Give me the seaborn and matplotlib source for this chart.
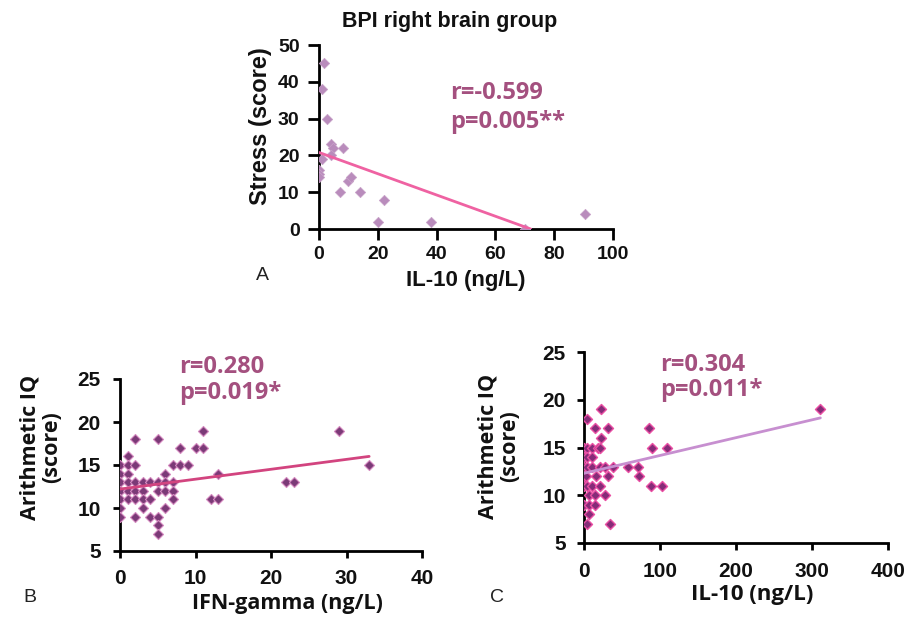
import matplotlib
matplotlib.use("Agg")
import matplotlib.pyplot as plt
import seaborn as sns
import pandas as pd

# ---------------- data ----------------
# Panel A: Stress vs IL-10
a_il10 = [1.8, 0.9, 2.8, 4, 4.9, 8, 4, 1, 0, 0, 0, 7, 10, 11, 14, 22, 20, 38, 70, 90.5]
a_stress = [45, 38, 30, 23, 22, 22, 20, 19, 16, 15, 14, 10, 13, 14, 10, 8, 2, 2, 0, 4]
a_fit_x = [0, 72]
a_fit_y = [20.8, 0]

# Panel B: Arithmetic IQ vs IFN-gamma
b_ifn = [11, 29,
         2, 5,
         8, 10, 11,
         1,
         0, 1, 2, 7, 8, 9, 33,
         0, 1, 6, 13,
         0, 1, 2, 3, 4, 5, 6, 7, 22, 23,
         0, 1, 2, 3, 5, 6, 7,
         0, 1, 2, 3, 4, 7, 12, 13,
         0, 3, 6,
         0, 2, 4, 5,
         5,
         5]
b_iq = [19, 19,
        18, 18,
        17, 17, 17,
        16,
        15, 15, 15, 15, 15, 15, 15,
        14, 14, 14, 14,
        13, 13, 13, 13, 13, 13, 13, 13, 13, 13,
        12, 12, 12, 12, 12, 12, 12,
        11, 11, 11, 11, 11, 11, 11, 11,
        10, 10, 10,
        9, 9, 9, 9,
        8,
        7]
b_fit_x = [0, 33]
b_fit_y = [12.2, 16.0]

# Panel C: Arithmetic IQ vs IL-10
c_il10 = [23, 310,
          4,
          15, 32, 85,
          23,
          0, 4, 10, 19, 21, 90, 109,
          0, 4, 10,
          0, 4, 10, 21, 28, 38, 58, 71,
          0, 2, 16, 32, 72,
          0, 4, 10, 21, 88, 102,
          6, 15, 27,
          0, 6, 15,
          6,
          4, 34]
c_iq = [19, 19,
        18,
        17, 17, 17,
        16,
        15, 15, 15, 15, 15, 15, 15,
        14, 14, 14,
        13, 13, 13, 13, 13, 13, 13, 13,
        12, 12, 12, 12, 12,
        11, 11, 11, 11, 11, 11,
        10, 10, 10,
        9, 9, 9,
        8,
        7, 7]
c_fit_x = [0, 311]
c_fit_y = [12.3, 18.1]

a_ticks_x = [0, 20, 40, 60, 80, 100]
a_ticks_y = [0, 10, 20, 30, 40, 50]
b_ticks_x = [0, 10, 20, 30, 40]
c_ticks_x = [0, 100, 200, 300, 400]
bc_ticks_y = [5, 10, 15, 20, 25]

# ---------------- style ----------------
sns.set_theme(style="ticks")
plt.rcParams["font.family"] = ["DejaVu Sans"]

W, H = 909, 619
fig = plt.figure(figsize=(W / 100, H / 100), dpi=100)
fig.patch.set_facecolor("white")

stat_color = "#a4507f"
ink = "#111111"


def style_axes(ax, size, xpad, ypad, length):
    sns.despine(ax=ax)
    for s in ("left", "bottom"):
        ax.spines[s].set_linewidth(2.0)
        ax.spines[s].set_color("black")
    ax.tick_params(axis="x", direction="out", length=length, width=2, color="black", pad=xpad)
    ax.tick_params(axis="y", direction="out", length=length, width=2, color="black", pad=ypad)
    for lab in ax.get_xticklabels() + ax.get_yticklabels():
        lab.set_fontfamily("Liberation Sans")
        lab.set_fontweight("bold")
        lab.set_fontsize(size)
        lab.set_color(ink)
    ax.set_facecolor("white")


# ---- Panel A ----
axA = fig.add_axes([319 / W, 1 - 229 / H, 294 / W, 184 / H])
dfA = pd.DataFrame({"x": a_il10, "y": a_stress})
sns.scatterplot(data=dfA, x="x", y="y", ax=axA, marker="D", s=28,
                color="#b98cbc", edgecolor="#c9a3c9", linewidth=0.5, zorder=3)
sns.lineplot(x=a_fit_x, y=a_fit_y, ax=axA, color="#ef62a2", linewidth=2, zorder=4)
axA.set_xlim(0, 100)
axA.set_ylim(0, 50)
axA.set_xticks(a_ticks_x)
axA.set_yticks(a_ticks_y)
style_axes(axA, 14, 4, 6, 8)
axA.set_xlabel("IL-10 (ng/L)", fontfamily="Liberation Sans", fontweight="bold",
               fontsize=16, color=ink)
axA.set_ylabel("Stress (score)", fontfamily="Liberation Sans", fontweight="bold",
               fontsize=17, color=ink)
axA.xaxis.set_label_coords(0.5, -0.225)
axA.yaxis.set_label_coords(-0.16, 0.56)
fig.text(450 / W, 1 - 22 / H, "BPI right brain group", ha="center", va="center",
         fontfamily="Liberation Sans", fontweight="bold", fontsize=15.5, color=ink)
fig.text(450 / W, 1 - 93 / H, "r=-0.599", ha="left", va="center",
         fontfamily="Open Sans", fontweight="bold", fontsize=17, color=stat_color)
fig.text(450 / W, 1 - 122 / H, "p=0.005**", ha="left", va="center",
         fontfamily="Open Sans", fontweight="bold", fontsize=17, color=stat_color)
fig.text(262 / W, 1 - 275 / H, "A", ha="center", va="center",
         fontfamily="Liberation Sans", fontsize=14, color="#222222")

# ---- Panel B ----
axB = fig.add_axes([120 / W, 1 - 551 / H, 302 / W, 172 / H])
dfB = pd.DataFrame({"x": b_ifn, "y": b_iq})
sns.scatterplot(data=dfB, x="x", y="y", ax=axB, marker="D", s=26,
                color="#7b3a77", edgecolor="#d58ac0", linewidth=0.8, zorder=3)
sns.lineplot(x=b_fit_x, y=b_fit_y, ax=axB, color="#d2447f", linewidth=2, zorder=4)
axB.set_xlim(0, 40)
axB.set_ylim(5, 25)
axB.set_xticks(b_ticks_x)
axB.set_yticks(bc_ticks_y)
style_axes(axB, 15, 8, 9, 5)
axB.set_xlabel("IFN-gamma (ng/L)", fontfamily="Open Sans", fontweight="bold",
               fontsize=15.5, color=ink)
axB.set_ylabel("Arithmetic IQ\n(score)", fontfamily="Open Sans", fontweight="bold",
               fontsize=15.5, color=ink, linespacing=1.05)
axB.xaxis.set_label_coords(0.553, -0.245)
axB.yaxis.set_label_coords(-0.19, 0.605)
fig.text(179 / W, 1 - 367 / H, "r=0.280", ha="left", va="center",
         fontfamily="Open Sans", fontweight="bold", fontsize=17, color=stat_color)
fig.text(179 / W, 1 - 393 / H, "p=0.019*", ha="left", va="center",
         fontfamily="Open Sans", fontweight="bold", fontsize=17, color=stat_color)
fig.text(30 / W, 1 - 597 / H, "B", ha="center", va="center",
         fontfamily="Liberation Sans", fontsize=14, color="#222222")

# ---- Panel C ----
axC = fig.add_axes([584 / W, 1 - 543 / H, 304 / W, 191 / H])
dfC = pd.DataFrame({"x": c_il10, "y": c_iq})
sns.scatterplot(data=dfC, x="x", y="y", ax=axC, marker="D", s=26,
                color="#862c78", edgecolor="#ea4fa3", linewidth=1.0, zorder=3)
sns.lineplot(x=c_fit_x, y=c_fit_y, ax=axC, color="#c78fd0", linewidth=2, zorder=4)
axC.set_xlim(0, 400)
axC.set_ylim(5, 25)
axC.set_xticks(c_ticks_x)
axC.set_yticks(bc_ticks_y)
style_axes(axC, 15, 9, 8, 5)
axC.set_xlabel("IL-10 (ng/L)", fontfamily="Open Sans", fontweight="bold",
               fontsize=16, color=ink)
axC.set_ylabel("Arithmetic IQ\n(score)", fontfamily="Open Sans", fontweight="bold",
               fontsize=15.5, color=ink, linespacing=1.05)
axC.xaxis.set_label_coords(0.553, -0.215)
axC.yaxis.set_label_coords(-0.21, 0.508)
fig.text(660 / W, 1 - 365 / H, "r=0.304", ha="left", va="center",
         fontfamily="Open Sans", fontweight="bold", fontsize=17, color=stat_color)
fig.text(660 / W, 1 - 390 / H, "p=0.011*", ha="left", va="center",
         fontfamily="Open Sans", fontweight="bold", fontsize=17, color=stat_color)
fig.text(497 / W, 1 - 597 / H, "C", ha="center", va="center",
         fontfamily="Liberation Sans", fontsize=14, color="#222222")

for ax in (axA, axB, axC):
    leg = ax.get_legend()
    if leg is not None:
        leg.remove()

fig.savefig("out.png", dpi=100, facecolor="white")
